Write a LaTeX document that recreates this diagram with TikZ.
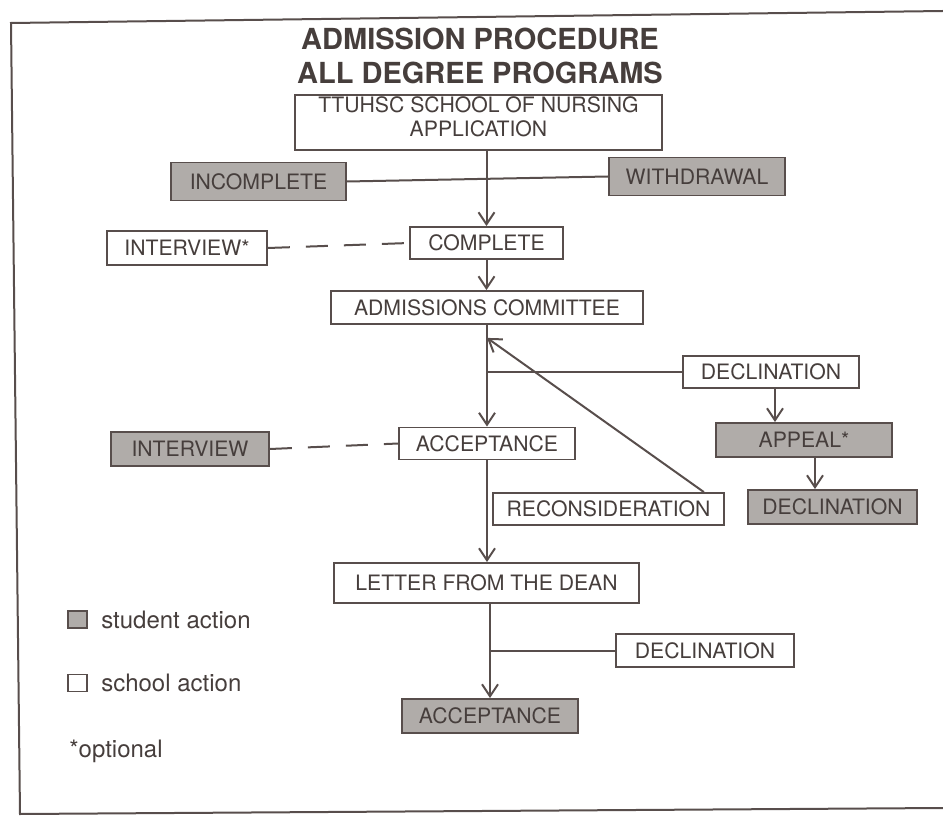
\documentclass[tikz,border=0pt]{standalone}
\usepackage{fontspec}
\setmainfont{TeX Gyre Heros}
\usetikzlibrary{arrows.meta,positioning}

\definecolor{linec}{RGB}{88,78,76}
\definecolor{textc}{RGB}{70,62,60}
\definecolor{shade}{RGB}{176,172,169}

\begin{document}
\begin{tikzpicture}[x=0.5pt,y=-0.5pt,
    >={Straight Barb[length=6pt,width=8pt]},
    flow/.style={draw=linec,line width=1pt},
    optline/.style={dash pattern=on 11pt off 8pt},
    schoolbox/.style={draw=linec,line width=0.9pt,fill=white,text=textc,inner sep=0pt,
        font=\fontsize{10.6}{12}\selectfont},
    studentbox/.style={schoolbox,fill=shade},
    legend/.style={text=textc,inner sep=0pt,font=\fontsize{12}{14}\selectfont}]

    \useasboundingbox (0,0) rectangle (943,818);
    % outer frame (scan is slightly tilted)
    \draw[linec,line width=1pt] (943,11) -- (11,23) -- (20,814) -- (943,808);

    \node[text=textc,align=center,font=\bfseries\fontsize{14.5}{16.75}\selectfont]
        (title) at (480,56) {ADMISSION PROCEDURE\\ALL DEGREE PROGRAMS};

    \node[schoolbox,align=center,text depth=6pt,minimum width=183.5pt,minimum height=27.5pt]
        (application) at (478.5,122.5) {TTUHSC SCHOOL OF NURSING\\APPLICATION};
    \node[studentbox,minimum width=87.5pt,minimum height=19pt] (incomplete) at (258.5,181.5) {INCOMPLETE};
    \node[studentbox,minimum width=88pt,minimum height=19pt] (withdrawal) at (697,176.5) {WITHDRAWAL};
    \node[schoolbox,minimum width=76.5pt,minimum height=16pt] (complete) at (486.5,243) {COMPLETE};
    \node[schoolbox,minimum width=80pt,minimum height=17pt] (interviewopt) at (187,248) {INTERVIEW*};
    \node[schoolbox,minimum width=156pt,minimum height=16.5pt] (committee) at (487,307.5) {ADMISSIONS COMMITTEE};
    \node[schoolbox,minimum width=88pt,minimum height=16pt] (declinationa) at (771,372) {DECLINATION};
    \node[schoolbox,minimum width=88pt,minimum height=16pt] (acceptancea) at (487,443.5) {ACCEPTANCE};
    \node[studentbox,minimum width=79pt,minimum height=17pt] (interview) at (190,449) {INTERVIEW};
    \node[studentbox,minimum width=88pt,minimum height=17pt] (appeal) at (804,440) {APPEAL*};
    \node[studentbox,minimum width=84.5pt,minimum height=17pt] (declinationb) at (832.5,507) {DECLINATION};
    \node[schoolbox,minimum width=115.5pt,minimum height=16pt] (reconsideration) at (608.5,509) {RECONSIDERATION};
    \node[schoolbox,minimum width=152.5pt,minimum height=20pt] (letter) at (486.5,583) {LETTER FROM THE DEAN};
    \node[schoolbox,minimum width=89pt,minimum height=16.5pt] (declinationc) at (705,650.5) {DECLINATION};
    \node[studentbox,minimum width=88pt,minimum height=17pt] (acceptanceb) at (490,716) {ACCEPTANCE};

    % key
    \node[studentbox,minimum width=9.5pt,minimum height=8.5pt] (keystudent) at (77.5,619.5) {};
    \node[schoolbox,minimum width=9.5pt,minimum height=8.5pt] (keyschool) at (77.5,683) {};
    \node[legend,right=6.5pt of keystudent] (keystudenttext) {student action};
    \node[legend,right=6.5pt of keyschool] (keyschooltext) {school action};
    \node[legend,anchor=base west] (keyoptional) at (69,757) {*optional};

    % application branch
    \draw[flow,->] (complete.north |- application.south) -- (complete.north);
    \draw[flow] (incomplete.east) -- (withdrawal.west);
    \draw[flow,optline] (interviewopt.east) -- (complete.west);
    \draw[flow,->] (complete.south) -- (complete.south |- committee.north);

    % committee decision
    \draw[flow,->] (committee.south) -- (acceptancea.north);
    \draw[flow] (declinationa.west) -- (declinationa.west -| acceptancea.north);
    \draw[flow,->] ([xshift=2pt]declinationa.south) -- ([xshift=2pt]declinationa.south |- appeal.north);
    \draw[flow,->] ([xshift=5.5pt]appeal.south) -- ([xshift=5.5pt]appeal.south |- declinationb.north);
    \draw[flow,optline] (interview.east) -- (acceptancea.west);
    \draw[flow,->] ([xshift=-10.5pt]reconsideration.north east) -- ([yshift=-6.5pt]committee.south);

    % dean's letter
    \draw[flow,->] (acceptancea.south) -- (acceptancea.south |- letter.north);
    \draw[flow,->] (letter.south -| acceptanceb.north) -- (acceptanceb.north);
    \draw[flow] (declinationc.west) -- (declinationc.west -| acceptanceb.north);

\end{tikzpicture}
\end{document}
